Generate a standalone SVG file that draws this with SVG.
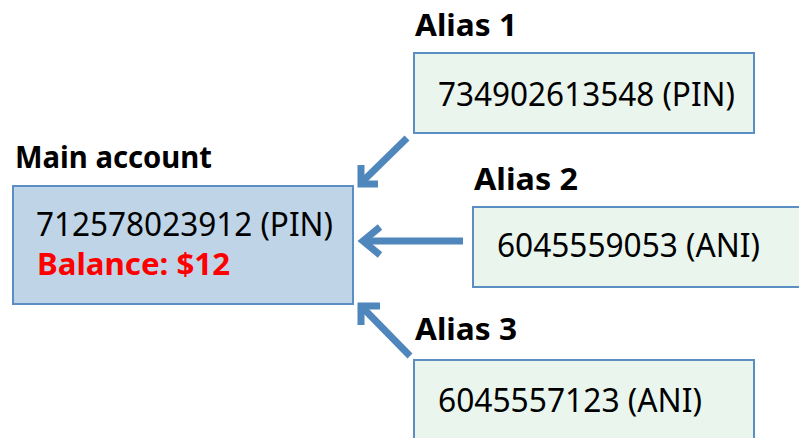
<svg xmlns="http://www.w3.org/2000/svg" width="799" height="438" viewBox="0 0 799 438">
<style>
.lbl{font-family:"Noto Sans","Liberation Sans",sans-serif;font-weight:bold;font-size:30px;fill:#000}
.txt{font-family:"Noto Sans","Liberation Sans",sans-serif;font-size:32px;fill:#000}
.red{font-family:"Noto Sans","Liberation Sans",sans-serif;font-weight:bold;font-size:30px;fill:#FF0000}
.main{fill:#BFD5E7;stroke:#5B8EC3;stroke-width:2}
.alias{fill:#EAF5EE;stroke:#5B8EC3;stroke-width:2}
.arr{fill:none;stroke:#4F86BC;stroke-width:7;stroke-linejoin:miter;stroke-linecap:butt}
</style>
<rect width="799" height="438" fill="#fff"/>
<g id="main">
<text class="lbl" x="15" y="168" textLength="197" lengthAdjust="spacingAndGlyphs">Main account</text>
<rect class="main" x="13" y="186" width="340" height="118"/>
<text class="txt" x="36" y="236" textLength="297" lengthAdjust="spacingAndGlyphs">712578023912 (PIN)</text>
<text class="red" x="37" y="275" textLength="193" lengthAdjust="spacingAndGlyphs">Balance: $12</text>
</g>
<g id="alias1">
<text class="lbl" x="415" y="36" textLength="102" lengthAdjust="spacingAndGlyphs">Alias 1</text>
<rect class="alias" x="414" y="53" width="340" height="80"/>
<text class="txt" x="438" y="106" textLength="297" lengthAdjust="spacingAndGlyphs">734902613548 (PIN)</text>
</g>
<g id="alias2">
<text class="lbl" x="474" y="190" textLength="104" lengthAdjust="spacingAndGlyphs">Alias 2</text>
<rect class="alias" x="473" y="207" width="340" height="80"/>
<text class="txt" x="497" y="257" textLength="263" lengthAdjust="spacingAndGlyphs">6045559053 (ANI)</text>
</g>
<g id="alias3">
<text class="lbl" x="415" y="340" textLength="102" lengthAdjust="spacingAndGlyphs">Alias 3</text>
<rect class="alias" x="414" y="360" width="340" height="90"/>
<text class="txt" x="438" y="412" textLength="264" lengthAdjust="spacingAndGlyphs">6045557123 (ANI)</text>
</g>
<g id="connectors">
<path class="arr" d="M407,138 L362,182"/>
<path class="arr" d="M378,184 L361,184 L361,165"/>
<path class="arr" d="M463,241 L364,241"/>
<path class="arr" d="M380,227 L363,241 L380,255"/>
<path class="arr" d="M410,356 L363,308"/>
<path class="arr" d="M380,306 L361,306 L361,325"/>
</g>
</svg>
